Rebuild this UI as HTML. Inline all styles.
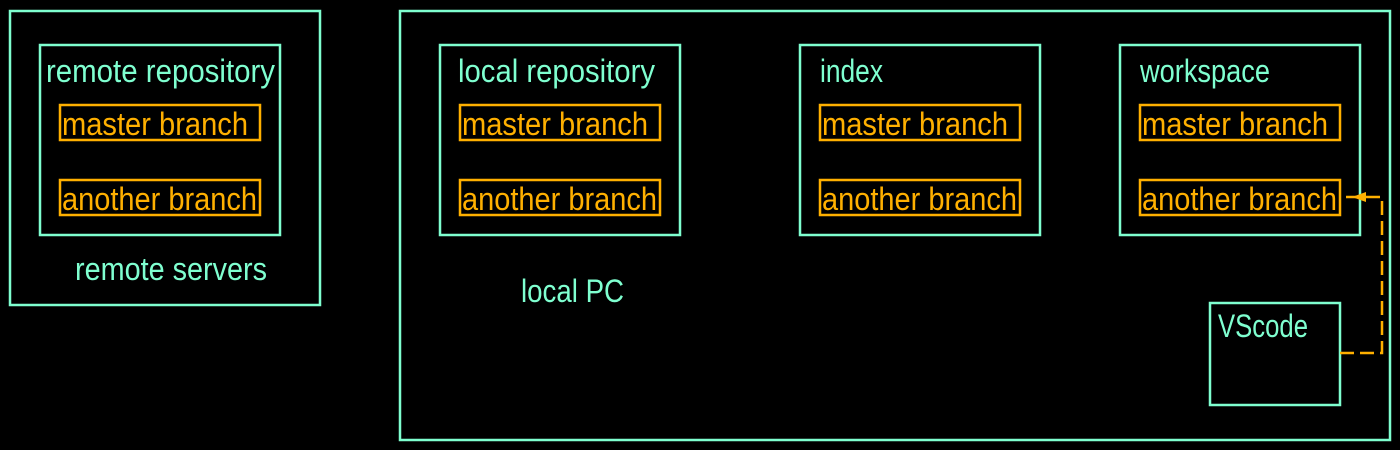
<!DOCTYPE html>
<html><head><style>html,body{margin:0;padding:0;background:#000;}svg{display:block}</style></head>
<body>
<svg width="1400" height="450" xmlns="http://www.w3.org/2000/svg" font-family="Liberation Sans, sans-serif" font-size="32">
<rect width="1400" height="450" fill="#000"/>
<g fill="none" stroke="#7fffd0" stroke-width="2.5">
<rect x="10" y="11" width="310" height="294"/>
<rect x="40" y="45" width="240" height="190"/>
<rect x="400" y="11" width="990" height="429"/>
<rect x="440" y="45" width="240" height="190"/>
<rect x="800" y="45" width="240" height="190"/>
<rect x="1120" y="45" width="240" height="190"/>
<rect x="1210" y="303" width="130" height="102"/>
</g>
<g fill="none" stroke="#ffb000" stroke-width="2.5">
<rect x="60" y="105" width="200" height="35"/>
<rect x="60" y="180" width="200" height="35"/>
<rect x="460" y="105" width="200" height="35"/>
<rect x="460" y="180" width="200" height="35"/>
<rect x="820" y="105" width="200" height="35"/>
<rect x="820" y="180" width="200" height="35"/>
<rect x="1140" y="105" width="200" height="35"/>
<rect x="1140" y="180" width="200" height="35"/>
<path d="M1340 353 H1382 V197 H1342" stroke-dasharray="14 6"/>
</g>
<polygon points="1352,197 1366,192 1366,202" fill="#ffb000"/>
<g fill="#7fffd0">
<text x="46" y="82" textLength="229" lengthAdjust="spacingAndGlyphs">remote repository</text>
<text x="75" y="280" textLength="192" lengthAdjust="spacingAndGlyphs">remote servers</text>
<text x="458" y="82" textLength="197" lengthAdjust="spacingAndGlyphs">local repository</text>
<text x="820" y="82" textLength="63" lengthAdjust="spacingAndGlyphs">index</text>
<text x="1140" y="82" textLength="130" lengthAdjust="spacingAndGlyphs">workspace</text>
<text x="521" y="302" textLength="103" lengthAdjust="spacingAndGlyphs">local PC</text>
<text x="1218" y="337" textLength="90" lengthAdjust="spacingAndGlyphs">VScode</text>
</g>
<g fill="#ffb000">
<text x="62" y="135" textLength="186" lengthAdjust="spacingAndGlyphs">master branch</text>
<text x="62" y="210" textLength="195" lengthAdjust="spacingAndGlyphs">another branch</text>
<text x="462" y="135" textLength="186" lengthAdjust="spacingAndGlyphs">master branch</text>
<text x="462" y="210" textLength="195" lengthAdjust="spacingAndGlyphs">another branch</text>
<text x="822" y="135" textLength="186" lengthAdjust="spacingAndGlyphs">master branch</text>
<text x="822" y="210" textLength="195" lengthAdjust="spacingAndGlyphs">another branch</text>
<text x="1142" y="135" textLength="186" lengthAdjust="spacingAndGlyphs">master branch</text>
<text x="1142" y="210" textLength="195" lengthAdjust="spacingAndGlyphs">another branch</text>
</g>
</svg>
</body></html>
